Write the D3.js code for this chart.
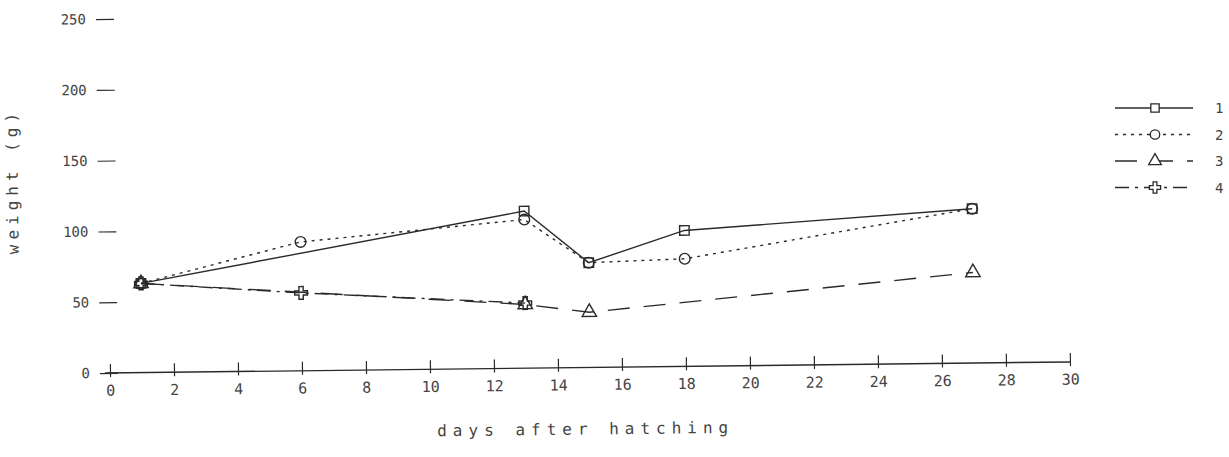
<!DOCTYPE html>
<html>
<head>
<meta charset="utf-8">
<script src="https://cdn.jsdelivr.net/npm/d3@7"></script>
<style>
  body { margin: 0; background: #fff; }
  svg text { font-family: "DejaVu Sans Mono", "Liberation Mono", monospace; fill: #444; }
</style>
</head>
<body>
<div id="chart"></div>
<script>
// data
const seriesNames = ["1", "2", "3", "4"];
const squareDays = [1, 13, 15, 18, 27];
const squareWeights = [63, 111, 74, 96, 109];
const circleDays = [1, 6, 13, 15, 18, 27];
const circleWeights = [63, 91, 105, 74, 76, 109];
const triangleDays = [1, 13, 15, 27];
const triangleWeights = [63, 45, 39, 64];
const crossDays = [1, 6, 13];
const crossWeights = [63, 55, 46];
const xTicks = [0, 2, 4, 6, 8, 10, 12, 14, 16, 18, 20, 22, 24, 26, 28, 30];
const yTicks = [0, 50, 100, 150, 200, 250];

const width = 1229, height = 457;
const margin = {top: 19, left: 110, right: 159, bottom: 84};

const svg = d3.select("#chart").append("svg")
  .attr("width", width)
  .attr("height", height);

const x = d3.scaleLinear().domain([0, 30]).range([margin.left, margin.left + 30 * 32]);
const y = d3.scaleLinear().domain([0, 250]).range([height - margin.bottom, margin.top]);

// the scan is tilted slightly, so the plot is too
const plot = svg.append("g")
  .attr("transform", `rotate(-0.66, ${x(0)}, ${y(0)})`);

const ink = "#2a2a2a";

// x axis
const gX = plot.append("g")
  .attr("transform", `translate(0, ${y(0)})`)
  .call(d3.axisBottom(x).tickValues(xTicks).tickSize(0).tickPadding(12));
gX.select(".domain").attr("stroke", ink).attr("stroke-width", 1.4)
  .attr("d", `M${x(0) - 5},0H${x(30)}`);
gX.selectAll(".tick").append("line")
  .attr("y1", -9).attr("y2", 4).attr("stroke", ink).attr("stroke-width", 1.2);
gX.selectAll(".tick text").attr("font-size", 15).attr("fill", "#555");

// y axis
const gY = plot.append("g")
  .attr("transform", `translate(${x(0)}, 0)`)
  .call(d3.axisLeft(y).tickValues(yTicks).tickSize(0).tickPadding(20));
gY.select(".domain").remove();
gY.selectAll(".tick").append("line")
  .attr("x1", -10).attr("x2", 8).attr("stroke", ink).attr("stroke-width", 1.2);
gY.selectAll(".tick text").attr("font-size", 14).attr("fill", "#555");

// axis titles
plot.append("text")
  .attr("x", 585).attr("y", 440)
  .attr("text-anchor", "middle")
  .attr("font-size", 16)
  .attr("letter-spacing", 6)
  .attr("fill", "#555")
  .text("days after hatching");

plot.append("text")
  .attr("transform", "translate(20, 180) rotate(-90)")
  .attr("text-anchor", "middle")
  .attr("font-size", 16)
  .attr("letter-spacing", 5)
  .attr("fill", "#555")
  .text("weight (g)");

const series = [
  {name: seriesNames[0], days: squareDays, weights: squareWeights, dash: null, symbol: d3.symbolSquare},
  {name: seriesNames[1], days: circleDays, weights: circleWeights, dash: "3,5", symbol: d3.symbolCircle},
  {name: seriesNames[2], days: triangleDays, weights: triangleWeights, dash: "22,14", symbol: d3.symbolTriangle},
  {name: seriesNames[3], days: crossDays, weights: crossWeights, dash: "14,6,3,6", symbol: d3.symbolCross}
];

const line = d3.line().x(d => x(d[0])).y(d => y(d[1]));

series.forEach(s => {
  const pts = s.days.map((d, i) => [d, s.weights[i]]);
  plot.append("path")
    .datum(pts)
    .attr("fill", "none")
    .attr("stroke", ink)
    .attr("stroke-width", 1.4)
    .attr("stroke-dasharray", s.dash)
    .attr("d", line);

  plot.selectAll(null)
    .data(pts)
    .enter()
    .append("path")
    .attr("transform", d => `translate(${x(d[0])}, ${y(d[1])})`)
    .attr("d", d3.symbol().type(s.symbol).size(90))
    .attr("fill", "none")
    .attr("stroke", ink)
    .attr("stroke-width", 1.4);
});

// legend on the right edge, labels run off the page as in the scan
const legend = svg.append("g").attr("transform", "translate(1115, 108)");
const rows = legend.selectAll("g")
  .data(series)
  .enter()
  .append("g")
  .attr("transform", (d, i) => `translate(0, ${i * 26.5})`);

rows.append("line")
  .attr("x1", 0).attr("x2", 78)
  .attr("stroke", ink)
  .attr("stroke-width", 1.3)
  .attr("stroke-dasharray", d => d.dash);

rows.append("path")
  .attr("transform", "translate(40, 0)")
  .attr("d", d => d3.symbol().type(d.symbol).size(70)())
  .attr("fill", "#fff")
  .attr("stroke", ink)
  .attr("stroke-width", 1.3);

rows.append("text")
  .attr("x", 100).attr("y", 5)
  .attr("font-size", 14)
  .attr("fill", "#666")
  .text(d => d.name);
</script>
</body>
</html>
